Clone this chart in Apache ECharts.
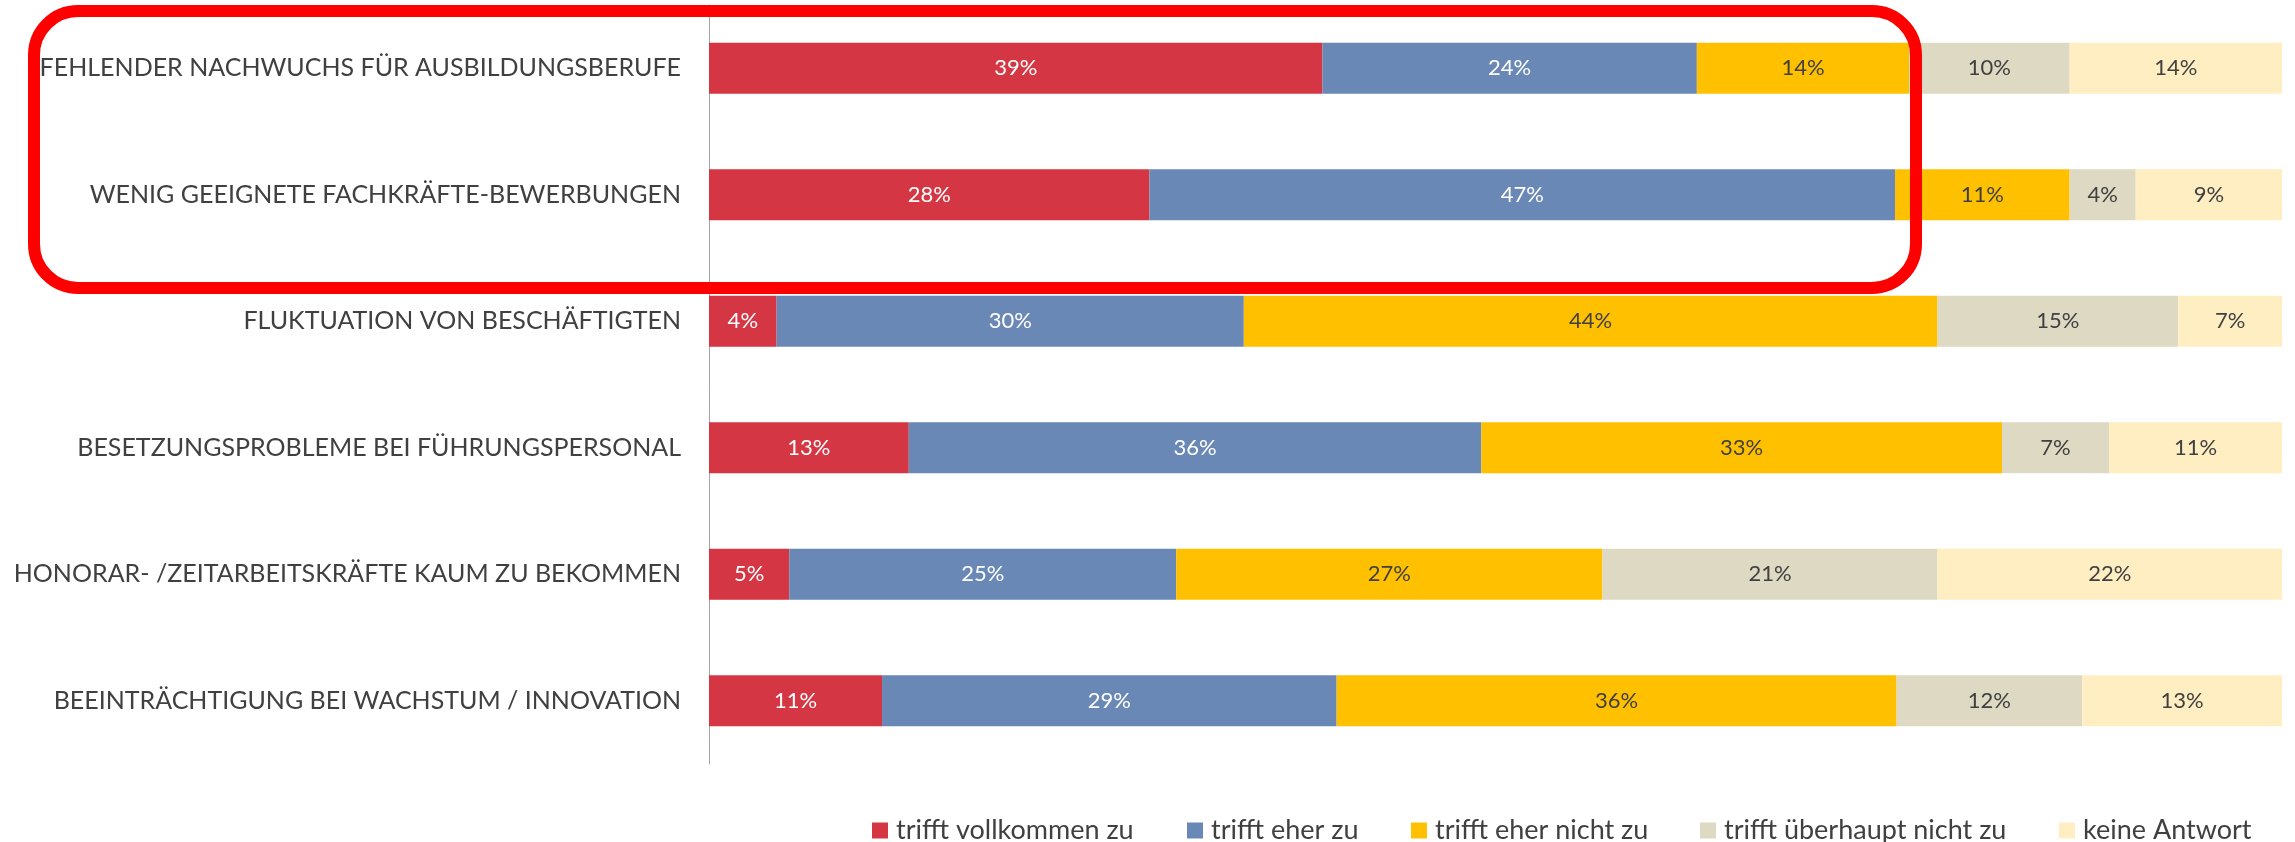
<!DOCTYPE html>
<html>
<head>
<meta charset="utf-8">
<script src="https://cdn.jsdelivr.net/npm/echarts@6/dist/echarts.min.js"></script>
<style>
html,body{margin:0;padding:0;background:#fff;}
#chart{width:2295px;height:842px;}
</style>
</head>
<body>
<div id="chart"></div>
<script>
const categories = [
  'FEHLENDER NACHWUCHS FÜR AUSBILDUNGSBERUFE',
  'WENIG GEEIGNETE FACHKRÄFTE-BEWERBUNGEN',
  'FLUKTUATION VON BESCHÄFTIGTEN',
  'BESETZUNGSPROBLEME BEI FÜHRUNGSPERSONAL',
  'HONORAR- /ZEITARBEITSKRÄFTE KAUM ZU BEKOMMEN',
  'BEEINTRÄCHTIGUNG BEI WACHSTUM / INNOVATION'
];
const seriesNames = ['trifft vollkommen zu', 'trifft eher zu', 'trifft eher nicht zu', 'trifft überhaupt nicht zu', 'keine Antwort'];
const trifftVollkommen = [39.0, 28.0, 4.3, 12.7, 5.1, 11.0];
const trifftEher = [23.8, 47.4, 29.7, 36.4, 24.6, 28.9];
const trifftEherNicht = [13.5, 11.1, 44.1, 33.1, 27.1, 35.6];
const trifftUeberhauptNicht = [10.2, 4.2, 15.3, 6.8, 21.3, 11.8];
const keineAntwort = [13.5, 9.3, 6.6, 11.0, 21.9, 12.7];

const values = [trifftVollkommen, trifftEher, trifftEherNicht, trifftUeberhauptNicht, keineAntwort];
const colors = ['#D43643', '#6A88B6', '#FFC000', '#DDD9C3', '#FFEEC2'];
const labelColors = ['#ffffff', '#ffffff', '#404040', '#404040', '#404040'];
const FONT = 'Lato, sans-serif';

const chart = echarts.init(document.getElementById('chart'), null, {renderer: 'canvas'});

const series = values.map((arr, i) => ({
  name: seriesNames[i],
  type: 'bar',
  stack: 'total',
  barWidth: 51,
  data: arr,
  itemStyle: {color: colors[i]},
  label: {
    show: true,
    position: 'inside',
    color: labelColors[i],
    fontFamily: FONT,
    fontSize: 22,
    formatter: p => Math.round(p.value) + '%'
  },
  emphasis: {disabled: true}
}));

const legendX = [867, 1182, 1406, 1695, 2054];
const legends = seriesNames.map((n, i) => ({
  left: legendX[i],
  top: 812,
  itemWidth: 16,
  itemHeight: 16,
  itemGap: 0,
  icon: 'rect',
  data: [n],
  textStyle: {color: '#404040', fontFamily: FONT, fontSize: 27, padding: [0, 0, 0, 3]},
  selectedMode: false
}));

chart.setOption({
  animation: false,
  backgroundColor: '#ffffff',
  grid: {left: 709, right: 13, top: 5, height: 759, containLabel: false, outerBoundsMode: 'none'},
  xAxis: {type: 'value', min: 0, max: 100, show: false},
  yAxis: {
    type: 'category',
    data: categories,
    inverse: true,
    axisLine: {show: true, lineStyle: {color: '#a6a6a6', width: 1}},
    axisTick: {show: false},
    axisLabel: {color: '#404040', fontFamily: FONT, fontSize: 25, margin: 28}
  },
  legend: legends,
  series: series,
  graphic: [{
    type: 'rect',
    shape: {x: 34, y: 11, width: 1882, height: 277, r: 44},
    style: {fill: 'none', stroke: '#FF0000', lineWidth: 12},
    z: 100
  }]
});
</script>
</body>
</html>
